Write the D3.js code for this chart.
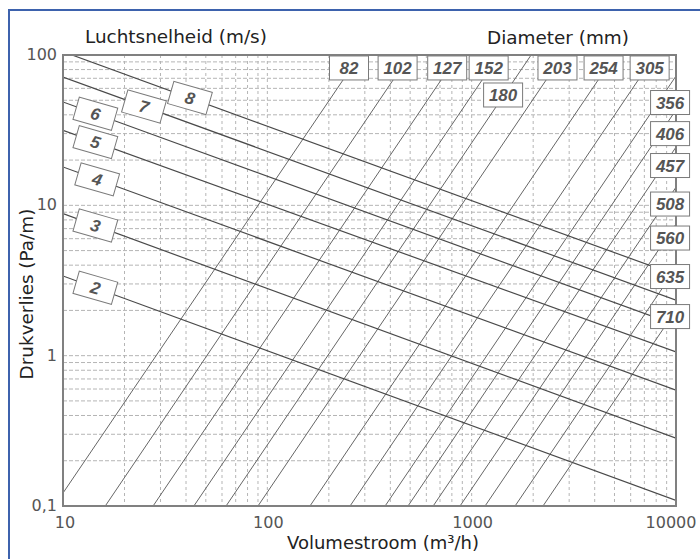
<!DOCTYPE html>
<html><head><meta charset="utf-8">
<script src="https://cdn.jsdelivr.net/npm/d3@7/dist/d3.min.js"></script>
<style>body{margin:0;background:#fff}svg{display:block}</style>
</head><body>
<svg id="c" width="700" height="559"></svg>
<script>
// ---------- data ----------
const velocityLabels = ["2","3","4","5","6","7","8"];           // m/s
const velocityStart  = [[10,3.39],[10,8.8],[10,18.0],[10,31.5],[10,48.7],[10,71.4],[11.07,100]];
const velocityEnd    = [[10000,0.109],[10000,0.283],[10000,0.59],[10000,1.06],[10000,1.60],[10000,2.34],[10000,3.44]];
const velocityLabelQ = [14.4,14.4,14.7,14.4,14.4,24.9,41.8];

const diameterLabels = ["82","102","127","152","180","203","254","305","356","406","457","508","560","635","710"]; // mm
const diameterStart  = [[10,0.122],[16.1,0.1],[27.6,0.1],[43.7,0.1],[62.8,0.1],[90.0,0.1],[161.7,0.1],[254,0.1],
                        [377,0.1],[488,0.1],[648,0.1],[877,0.1],[1163,0.1],[1631,0.1],[2234,0.1]];
const diameterEnd    = [[284,100],[499,100],[857,100],[1361,100],[1954,100],[2800,100],[5035,100],[7907,100],
                        [10000,72.5],[10000,43.1],[10000,24.4],[10000,13.2],[10000,7.5],[10000,3.83],[10000,2.01]];
// label anchor (centre) of each diameter box, in data units
const diameterLabelAt = [[251,82],[434,82],[759,82],[1211,82],[1425,54.2],[2630,82],[4421,82],[7430,82],
                         [9354,48.3],[9354,30.0],[9354,18.4],[9354,10.2],[9354,6.06],[9354,3.36],[9354,1.82]];

const xTicks = [10,100,1000,10000];
const xTickLabels = ["10","100","1000","10000"];
const yTicks = [0.1,1,10,100];
const yTickLabels = ["0,1","1","10","100"];

// ---------- chart ----------
const svg = d3.select("#c");
const L = 63, R = 676, T = 55, B = 506;
const x = d3.scaleLog().domain([10,10000]).range([L,R]);
const y = d3.scaleLog().domain([0.1,100]).range([B,T]);

// outer blue frame
svg.append("rect").attr("x",9).attr("y",10).attr("width",720).attr("height",600)
  .attr("fill","#fff").attr("stroke","#3d62ad").attr("stroke-width",2);

svg.append("clipPath").attr("id","clip").append("rect")
  .attr("x",L).attr("y",T).attr("width",R-L).attr("height",B-T);

// grid
const xGrid = [], yGrid = [];
for (let d = 10; d < 10000; d *= 10) for (let k = 1; k < 10; k++) if (d*k > 10) xGrid.push(d*k);
for (let d = 0.1; d < 100; d *= 10) for (let k = 1; k < 10; k++) if (d*k > 0.1001) yGrid.push(d*k);
const g = svg.append("g");
g.selectAll(".vx").data(xGrid.filter(v => v < 9999)).join("line")
  .attr("x1",d=>x(d)).attr("x2",d=>x(d)).attr("y1",T).attr("y2",B)
  .attr("stroke","#b5b5b5").attr("stroke-width",1).attr("stroke-dasharray","3,3");
g.selectAll(".hy").data(yGrid.filter(v => v < 99.9)).join("line")
  .attr("y1",d=>y(d)).attr("y2",d=>y(d)).attr("x1",L).attr("x2",R)
  .attr("stroke","#b5b5b5").attr("stroke-width",1).attr("stroke-dasharray","4,2");

// lines
const lg = svg.append("g").attr("clip-path","url(#clip)");
const line = d3.line().x(d=>x(d[0])).y(d=>y(d[1]));
lg.selectAll(".dl").data(diameterLabels.map((l,i)=>[diameterStart[i],diameterEnd[i]])).join("path")
  .attr("d",line).attr("fill","none").attr("stroke","#666").attr("stroke-width",1);
lg.selectAll(".vl").data(velocityLabels.map((l,i)=>[velocityStart[i],velocityEnd[i]])).join("path")
  .attr("d",line).attr("fill","none").attr("stroke","#4a4a4a").attr("stroke-width",1.2);

// plot frame
svg.append("rect").attr("x",L).attr("y",T).attr("width",R-L).attr("height",B-T)
  .attr("fill","none").attr("stroke","#808080").attr("stroke-width",2);

const labFont = "'Liberation Sans', Arial, sans-serif";
// velocity labels (on their lines, rotated)
velocityLabels.forEach((lab,i) => {
  const a = velocityStart[i], b = velocityEnd[i];
  const t = (Math.log(velocityLabelQ[i]) - Math.log(a[0])) / (Math.log(b[0]) - Math.log(a[0]));
  const p = Math.exp(Math.log(a[1]) + t*(Math.log(b[1]) - Math.log(a[1])));
  const gg = svg.append("g").attr("transform",`translate(${x(velocityLabelQ[i])},${y(p)}) rotate(16)`);
  gg.append("rect").attr("x",-20).attr("y",-11.5).attr("width",40).attr("height",23)
    .attr("fill","#fff").attr("stroke","#7a7a7a").attr("stroke-width",1);
  gg.append("text").attr("text-anchor","middle").attr("y",6).text(lab)
    .attr("font-family",labFont).attr("font-size",17).attr("font-weight","bold")
    .attr("font-style","italic").attr("fill","#555");
});

// diameter labels
diameterLabels.forEach((lab,i) => {
  const [q,p] = diameterLabelAt[i];
  const gg = svg.append("g").attr("transform",`translate(${x(q)},${y(p)})`);
  gg.append("rect").attr("x",-19.5).attr("y",-12).attr("width",39).attr("height",24)
    .attr("fill","#fff").attr("stroke","#7a7a7a").attr("stroke-width",1);
  gg.append("text").attr("text-anchor","middle").attr("y",6).text(lab)
    .attr("font-family",labFont).attr("font-size",17).attr("font-weight","bold")
    .attr("font-style","italic").attr("fill","#555");
});

// tick labels
const tickFont = "'DejaVu Sans', Verdana, sans-serif";
svg.selectAll(".xt").data(xTicks).join("text")
  .attr("x",(d,i)=> x(d) + (i===0?2:(i===3?-5:1))).attr("y",528)
  .attr("text-anchor","middle").text((d,i)=>xTickLabels[i])
  .attr("font-family",tickFont).attr("font-size",16).attr("fill","#555");
svg.selectAll(".yt").data(yTicks).join("text")
  .attr("x",57).attr("y",d=>y(d)+5).attr("text-anchor","end").text((d,i)=>yTickLabels[i])
  .attr("font-family",tickFont).attr("font-size",16).attr("fill","#555");

// titles
const titleFont = "'DejaVu Sans', Verdana, sans-serif";
svg.append("text").attr("x",85).attr("y",43).text("Luchtsnelheid (m/s)")
  .attr("font-family",titleFont).attr("font-size",18.4).attr("fill","#222");
svg.append("text").attr("x",487).attr("y",44).text("Diameter (mm)")
  .attr("font-family",titleFont).attr("font-size",18.4).attr("fill","#222");
svg.append("text").attr("x",383).attr("y",549).attr("text-anchor","middle").text("Volumestroom (m³/h)")
  .attr("font-family",titleFont).attr("font-size",18).attr("fill","#222");
svg.append("text").attr("transform","translate(33,294) rotate(-90)").attr("text-anchor","middle")
  .text("Drukverlies (Pa/m)")
  .attr("font-family",titleFont).attr("font-size",18.4).attr("fill","#222");
</script>
</body></html>
